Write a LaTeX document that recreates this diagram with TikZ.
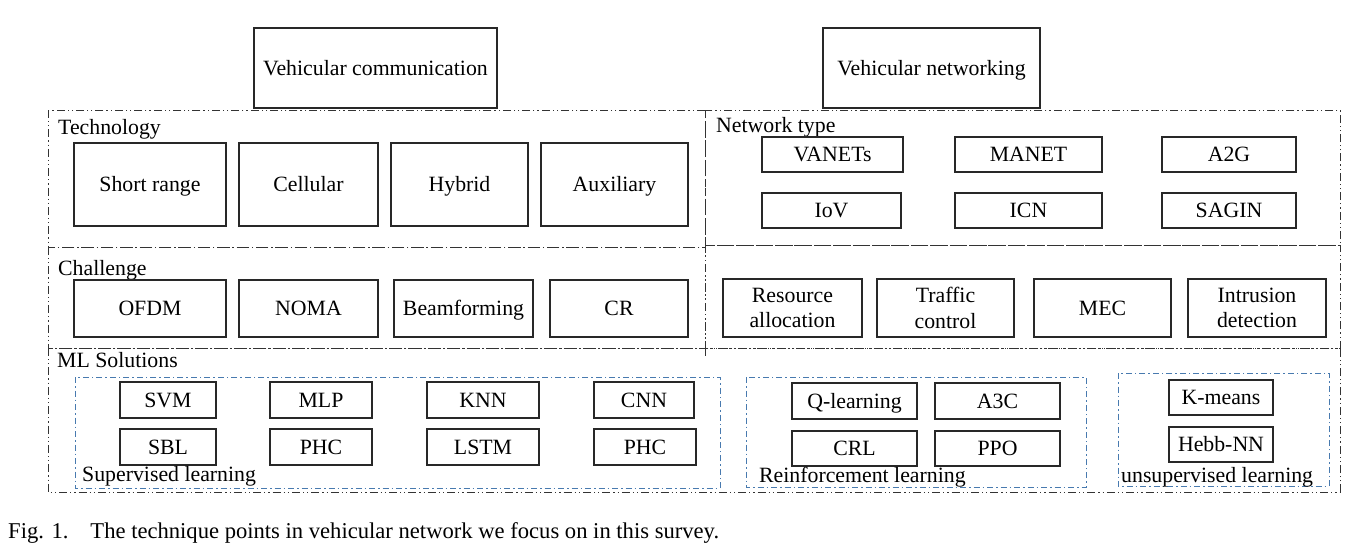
\documentclass[tikz,border=0pt]{standalone}
\usepackage{fontspec}
\setmainfont{Liberation Serif}
\definecolor{bluedash}{RGB}{72,122,175}
\definecolor{boxline}{RGB}{40,40,40}
\newcommand\mybox[6]{%
  \node[boxst, oneline, minimum width={#4pt-#2pt}, minimum height={#5pt-#3pt}]
    (#1) at ({(#2+#4)/2},{(#3+#5)/2}) {#6};}
\newcommand\myboxtwo[6]{%
  \node[boxst, minimum width={#4pt-#2pt}, minimum height={#5pt-#3pt}]
    (#1) at ({(#2+#4)/2},{(#3+#5)/2}) {#6};}
\begin{document}
\begin{tikzpicture}[x=1pt,y=-1pt,
  every node/.style={font=\fontsize{21.8}{25.5}\selectfont, text=black},
  boxst/.style={draw=boxline, line width=1.3pt, inner sep=0pt, align=center},
  oneline/.style={text height=17pt, text depth=3pt},
  framest/.style={draw=black!80, line width=1pt,
    dash pattern=on 8pt off 3pt on 1.2pt off 3pt on 1.2pt off 3pt},
  bframest/.style={draw=bluedash, line width=1pt,
    dash pattern=on 6pt off 3pt on 1.5pt off 3pt},
  lbl/.style={anchor=base west, inner sep=0pt}]
\useasboundingbox (0,0) rectangle (1355,552);
\fill[white] (0,0) rectangle (1355,552);

% frames
\draw[framest] (48,110) rectangle (705,247);
\draw[framest] (48,247) rectangle (705,348);
\draw[framest] (705,110) rectangle (1340,245);
\draw[framest] (705,245) rectangle (1340,348);
\draw[framest] (48,348) rectangle (1340,492);
\draw[framest] (705,348) -- (705,357);
\draw[bframest] (75,377) rectangle (720,488);
\draw[bframest] (746,377) rectangle (1086,487);
\draw[bframest] (1118,373) rectangle (1329,486);

% top boxes
\mybox{vc}{254}{28}{497}{108}{Vehicular communication}
\mybox{vn}{823}{28}{1040}{108}{Vehicular networking}

% technology
\node[lbl] (tech) at (58,134) {Technology};
\mybox{sr}{74}{143}{226}{226}{Short range}
\mybox{cel}{239}{143}{378}{226}{Cellular}
\mybox{hyb}{391}{143}{528}{226}{Hybrid}
\mybox{aux}{541}{143}{688}{226}{Auxiliary}

% challenge
\node[lbl] (chal) at (58,275) {Challenge};
\mybox{ofdm}{74}{280}{226}{337}{OFDM}
\mybox{noma}{239}{280}{378}{337}{NOMA}
\mybox{beam}{394}{280}{533}{337}{Beamforming}
\mybox{cr}{550}{280}{688}{337}{CR}

% network type
\node[lbl] (ntype) at (716,132) {Network type};
\mybox{vanet}{762}{137}{903}{172}{VANETs}
\mybox{manet}{955}{137}{1102}{172}{MANET}
\mybox{atg}{1162}{137}{1296}{172}{A2G}
\mybox{iov}{762}{193}{901}{228}{IoV}
\mybox{icn}{955}{193}{1102}{228}{ICN}
\mybox{sagin}{1162}{193}{1296}{228}{SAGIN}

% network challenges
\myboxtwo{ra}{723}{279}{862}{337}{Resource\\allocation}
\myboxtwo{tc}{877}{279}{1014}{337}{Traffic\\control}
\mybox{mec}{1034}{279}{1171}{337}{MEC}
\myboxtwo{id}{1188}{279}{1326}{337}{Intrusion\\detection}

% ML
\node[lbl] (mls) at (57,367) {ML Solutions};
\mybox{svm}{120}{382}{216}{418}{SVM}
\mybox{mlp}{270}{382}{372}{418}{MLP}
\mybox{knn}{427}{382}{539}{418}{KNN}
\mybox{cnn}{594}{382}{694}{418}{CNN}
\mybox{sbl}{120}{429}{216}{465}{SBL}
\mybox{phca}{270}{429}{372}{465}{PHC}
\mybox{lstm}{427}{429}{539}{465}{LSTM}
\mybox{phcb}{594}{429}{696}{465}{PHC}
\node[lbl] (sup) at (82,481) {Supervised learning};

\mybox{ql}{792}{383}{917}{419}{Q-learning}
\mybox{atc}{935}{383}{1060}{419}{A3C}
\mybox{crl}{792}{431}{917}{466}{CRL}
\mybox{ppo}{935}{431}{1060}{466}{PPO}
\node[lbl] (rl) at (759,482) {Reinforcement learning};

\mybox{km}{1169}{380}{1273}{415}{K-means}
\mybox{hebb}{1169}{427}{1273}{462}{Hebb-NN}
\node[lbl] (ul) at (1121,482) {unsupervised learning};

% caption
\node[lbl, font=\fontsize{22.6}{26}\selectfont] (cap) at (8,538) {Fig. 1.\hspace{22pt}The technique points in vehicular network we focus on in this survey.};
\end{tikzpicture}
\end{document}
